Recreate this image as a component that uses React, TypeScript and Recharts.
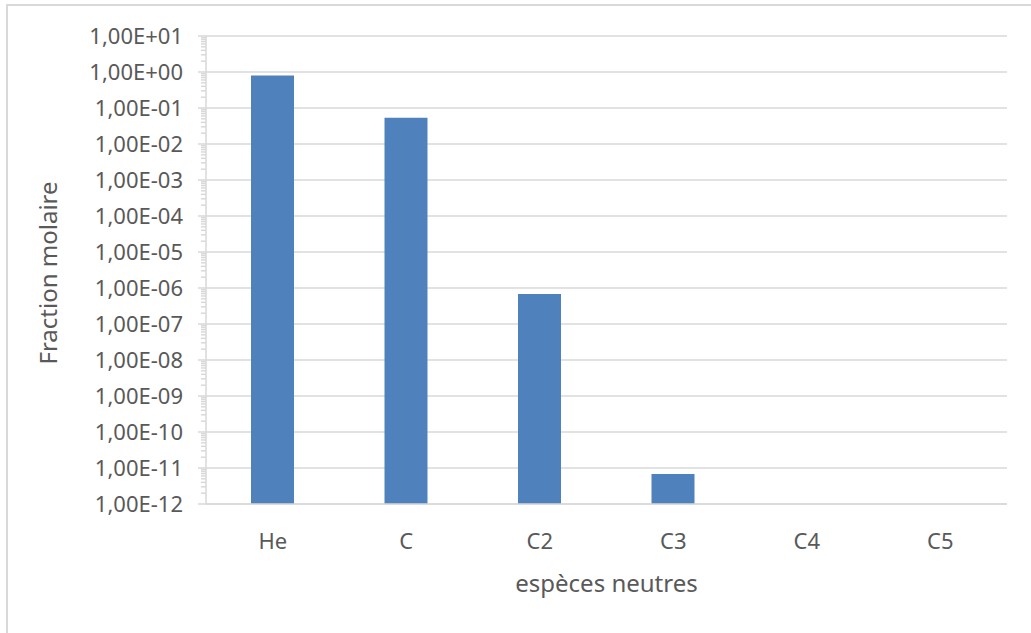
import { Bar, BarChart, CartesianGrid, Label, XAxis, YAxis } from "recharts";

const SPECIES = ["He", "C", "C2", "C3", "C4", "C5"];
const FRACTIONS: (number | null)[] = [0.8, 0.054, 6.8e-7, 6.8e-12, null, null];

const MAJOR_TICKS = [
  1e-12, 1e-11, 1e-10, 1e-9, 1e-8, 1e-7, 1e-6, 1e-5, 1e-4, 1e-3, 1e-2, 1e-1, 1, 10,
];
const MINOR_STEPS = [2, 3, 4, 5, 6, 7, 8, 9];

const X_TITLE = "espèces neutres";
const Y_TITLE = "Fraction molaire";

const FONT = "'Noto Sans', sans-serif";
const TEXT = "#595959";
const LINE = "#d9d9d9";

const TICK_SIZE = 8;
const TICK_MARGIN = 15;

const chartData = SPECIES.map((name, i) => ({ name, fraction: FRACTIONS[i] }));

const allTicks = [
  ...MAJOR_TICKS,
  ...MAJOR_TICKS.slice(0, -1).flatMap((t) => MINOR_STEPS.map((k) => t * k)),
].sort((a, b) => a - b);

function sci(v: number) {
  const [m, e] = v.toExponential(2).split("e");
  const exp = parseInt(e, 10);
  return `${m.replace(".", ",")}E${exp < 0 ? "-" : "+"}${String(Math.abs(exp)).padStart(2, "0")}`;
}

function YTick(props: any) {
  const { x, y, payload } = props;
  const major = MAJOR_TICKS.includes(payload.value);
  const axisX = x + TICK_MARGIN + TICK_SIZE;
  return (
    <g>
      <line
        x1={axisX - (major ? TICK_SIZE : 5)}
        x2={axisX}
        y1={y}
        y2={y}
        stroke={LINE}
        strokeWidth={1.5}
      />
      {major ? (
        <text
          x={x}
          y={y}
          dy="0.355em"
          textAnchor="end"
          fill={TEXT}
          fontSize={22}
          fontFamily={FONT}
        >
          {sci(payload.value)}
        </text>
      ) : null}
    </g>
  );
}

export default function App() {
  return (
    <div
      style={{
        position: "absolute",
        left: 0,
        top: 0,
        width: 1031,
        height: 633,
        overflow: "hidden",
        background: "#fff",
      }}
    >
      <div
        style={{
          position: "absolute",
          left: 6,
          top: 4,
          width: 1100,
          height: 700,
          border: `2px solid ${LINE}`,
        }}
      />
      <div style={{ position: "absolute", left: 0, top: 0 }}>
        <BarChart
          width={1031}
          height={633}
          data={chartData}
          margin={{ top: 36, right: 24, bottom: 0, left: 0 }}
        >
          <CartesianGrid vertical={false} stroke={LINE} strokeWidth={1.5} yAxisId="grid" />
          <XAxis
            dataKey="name"
            height={129}
            tickLine={false}
            tickSize={0}
            tickMargin={29}
            axisLine={{ stroke: LINE, strokeWidth: 1.5 }}
            tick={{ fill: TEXT, fontSize: 22, fontFamily: FONT }}
          >
            <Label
              content={({ viewBox }: any) => (
                <text
                  x={viewBox.x + viewBox.width / 2}
                  y={viewBox.y + 88}
                  textAnchor="middle"
                  fill={TEXT}
                  fontSize={24}
                  fontFamily={FONT}
                >
                  {X_TITLE}
                </text>
              )}
            />
          </XAxis>
          <YAxis
            yAxisId="grid"
            hide
            scale="log"
            domain={[1e-12, 10]}
            allowDataOverflow
            ticks={MAJOR_TICKS}
            interval={0}
          />
          <YAxis
            scale="log"
            domain={[1e-12, 10]}
            allowDataOverflow
            ticks={allTicks}
            interval={0}
            width={206}
            tickSize={TICK_SIZE}
            tickMargin={TICK_MARGIN}
            tickLine={false}
            axisLine={{ stroke: LINE, strokeWidth: 1.5 }}
            tick={<YTick />}
          >
            <Label
              content={({ viewBox }: any) => {
                const cx = viewBox.x + 57;
                const cy = viewBox.y + viewBox.height / 2 + 3;
                return (
                  <text
                    x={cx}
                    y={cy}
                    transform={`rotate(-90, ${cx}, ${cy})`}
                    textAnchor="middle"
                    fill={TEXT}
                    fontSize={24}
                    fontFamily={FONT}
                  >
                    {Y_TITLE}
                  </text>
                );
              }}
            />
          </YAxis>
          <Bar dataKey="fraction" fill="#4f81bd" barSize={43} isAnimationActive={false} />
        </BarChart>
      </div>
    </div>
  );
}
